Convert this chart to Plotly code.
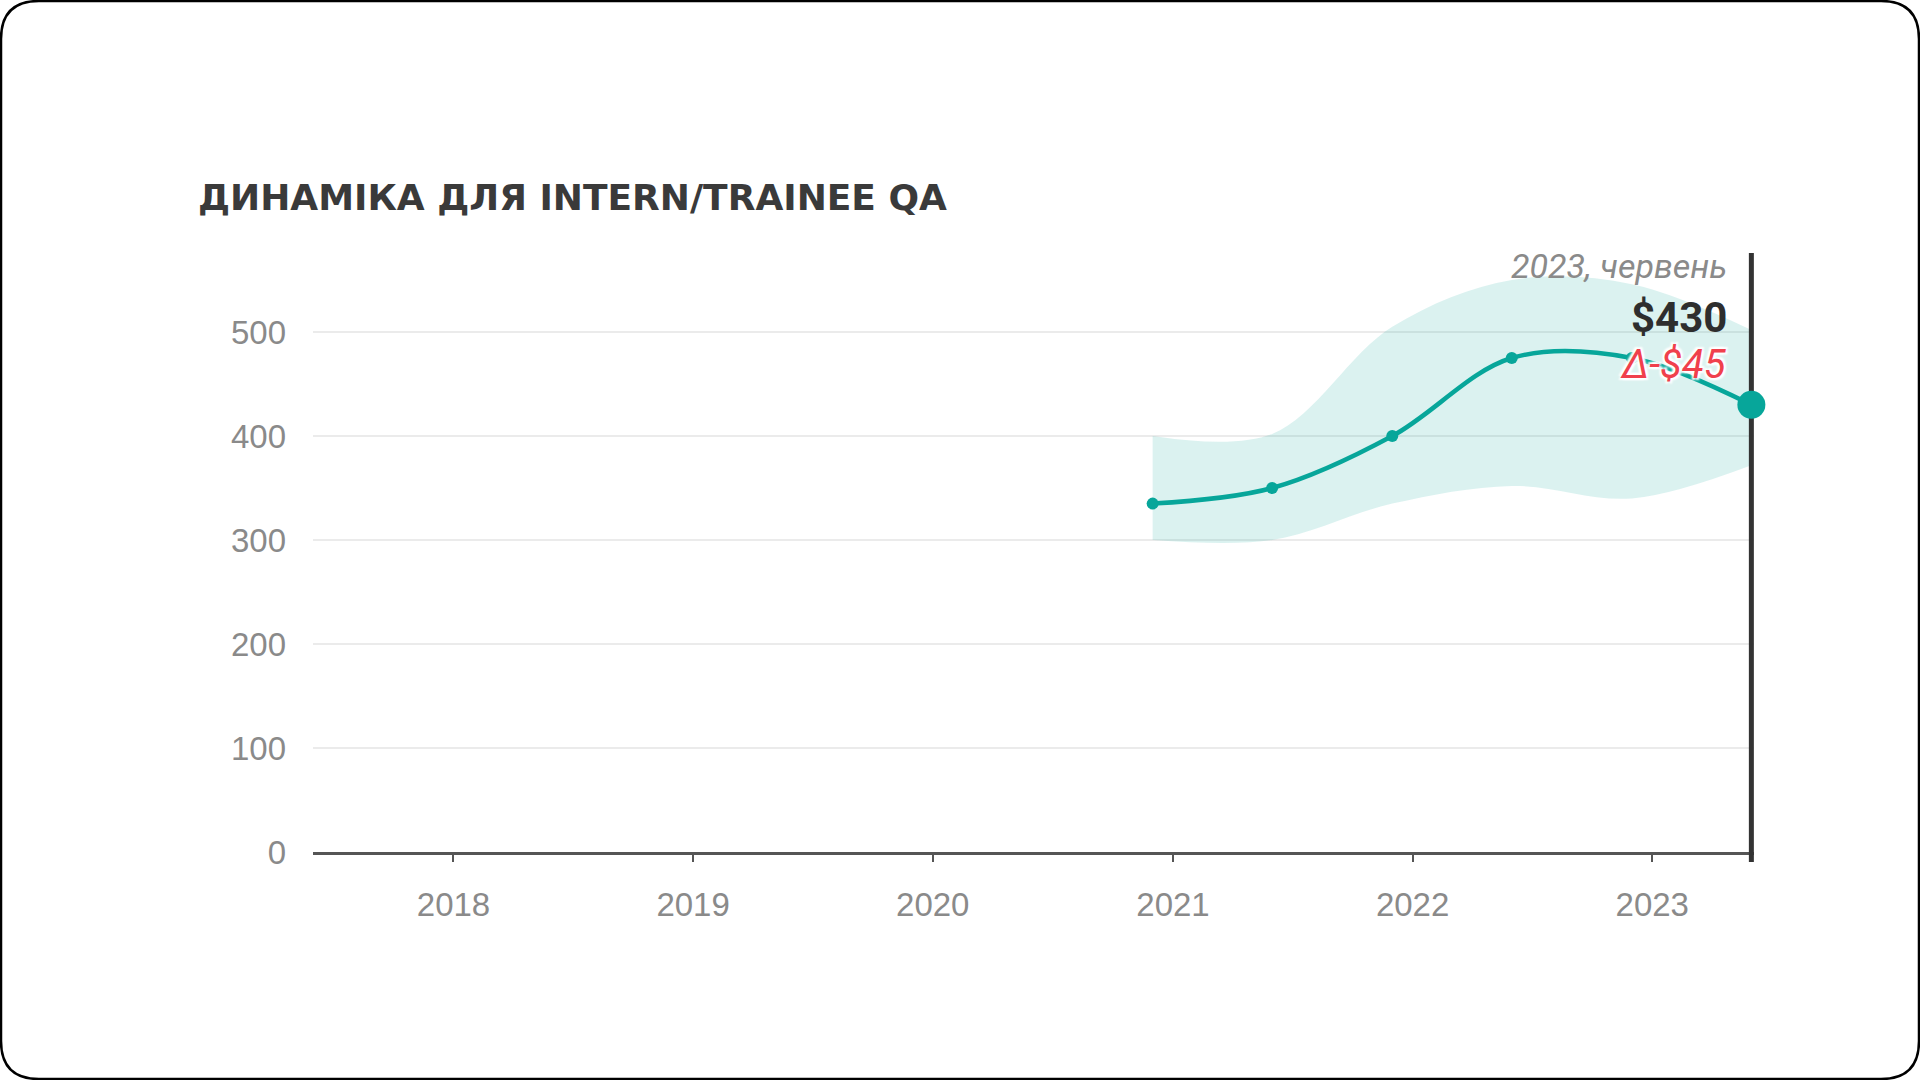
import plotly.graph_objects as go

# ---- data ----
dates = ["2020-12-01", "2021-06-01", "2021-12-01", "2022-06-01", "2022-12-01", "2023-06-01"]
median = [335, 350, 400, 475, 475, 430]
upper = [400, 402, 505, 550, 546, 502]
lower = [300, 300, 335, 352, 340, 372]
year_ticks = ["2018-01-01", "2019-01-01", "2020-01-01", "2021-01-01", "2022-01-01", "2023-01-01"]
year_labels = ["2018", "2019", "2020", "2021", "2022", "2023"]
y_ticks = [0, 100, 200, 300, 400, 500]
title_text = "ДИНАМІКА ДЛЯ INTERN/TRAINEE QA"
date_label = "2023, червень"
value_label = "$430"
delta_label = "Δ-$45"

# ---- layout geometry (pixels) ----
FW, FH = 1920, 1080
L, R, T, B = 313, 1754, 253, 852
W, H = R - L, B - T
Y_MAX = 576


def px(x):
    return (x - L) / W


def py(y):
    return (B - y) / H


TEAL = "#07a69a"
BAND = "rgba(12,166,154,0.15)"
CURSOR = "#333333"
TICKFONT = dict(family="Liberation Sans", size=33, color="#8a8a8a")

fig = go.Figure()
fig.add_trace(go.Scatter(x=dates, y=lower, mode="lines", line=dict(width=0, shape="spline", color=BAND),
                         hoverinfo="skip", showlegend=False))
fig.add_trace(go.Scatter(x=dates, y=upper, mode="lines", line=dict(width=0, shape="spline", color=BAND),
                         fill="tonexty", fillcolor=BAND, hoverinfo="skip", showlegend=False))
# cursor line at the last date (drawn above gridlines, below the series)
fig.add_trace(go.Scatter(x=[dates[-1], dates[-1]], y=[0, Y_MAX], mode="lines",
                         line=dict(width=5, color=CURSOR), hoverinfo="skip", showlegend=False))
fig.add_trace(go.Scatter(x=dates, y=median, mode="lines+markers",
                         line=dict(width=4.5, shape="spline", color=TEAL),
                         marker=dict(size=[12, 12, 12, 12, 12, 28], color=TEAL, opacity=1,
                                     line=dict(width=0)),
                         cliponaxis=False, showlegend=False))

shapes = []
# cursor tail below the axis
shapes.append(dict(type="line", xref="x", yref="paper", x0=dates[-1], x1=dates[-1],
                   y0=py(862), y1=0, line=dict(color=CURSOR, width=5), layer="above"))
# rounded border
x0, y0, x1, y1, r = 1, 1, FW - 1, FH - 1, 38
path = (f"M {px(x0 + r)},{py(y0)} L {px(x1 - r)},{py(y0)} Q {px(x1)},{py(y0)} {px(x1)},{py(y0 + r)} "
        f"L {px(x1)},{py(y1 - r)} Q {px(x1)},{py(y1)} {px(x1 - r)},{py(y1)} "
        f"L {px(x0 + r)},{py(y1)} Q {px(x0)},{py(y1)} {px(x0)},{py(y1 - r)} "
        f"L {px(x0)},{py(y0 + r)} Q {px(x0)},{py(y0)} {px(x0 + r)},{py(y0)} Z")
shapes.append(dict(type="path", xref="paper", yref="paper", path=path,
                   line=dict(color="#000000", width=2.5)))

halo = "2px 2px 2px white, -2px -2px 2px white, 2px -2px 2px white, -2px 2px 2px white"
annotations = [
    dict(text=f"<b>{title_text}</b>", xref="paper", yref="paper", x=px(196), y=py(198),
         xanchor="left", yanchor="middle", showarrow=False,
         font=dict(family="DejaVu Sans", size=36, color="#3a3a3a")),
    dict(text=f"<i>{date_label}</i>", xref="x", yref="paper", x=dates[-1], xshift=-22, y=py(266),
         xanchor="right", yanchor="middle", showarrow=False,
         font=dict(family="Roboto", size=34, color="#8a8a8a")),
    dict(text=f"<b>{value_label}</b>", xref="x", yref="paper", x=dates[-1], xshift=-22, y=py(317),
         xanchor="right", yanchor="middle", showarrow=False,
         font=dict(family="Roboto", size=42, color="#2e2e2e")),
    dict(text=f"<i>{delta_label}</i>", xref="x", yref="paper", x=dates[-1], xshift=-22, y=py(364),
         xanchor="right", yanchor="middle", showarrow=False,
         font=dict(family="Roboto", size=40, color="#f0404c", shadow=halo)),
]

fig.update_layout(
    width=FW, height=FH, autosize=False,
    margin=dict(l=L, r=FW - R, t=T, b=FH - B),
    paper_bgcolor="white", plot_bgcolor="white",
    shapes=shapes, annotations=annotations,
    font=dict(family="Liberation Sans", color="#8a8a8a"),
    xaxis=dict(type="date", range=["2017-06-01", "2023-06-05"], tickvals=year_ticks, ticktext=year_labels,
               showgrid=False, showline=True, linecolor="#555555", linewidth=2.5,
               ticks="outside", ticklen=7, tickwidth=2, tickcolor="#555555",
               ticklabelstandoff=15, tickfont=TICKFONT,
               zeroline=False, fixedrange=True),
    yaxis=dict(range=[0, Y_MAX], tickvals=y_ticks, showgrid=True, gridcolor="#ebebeb", gridwidth=2,
               zeroline=False, showline=False, ticks="", ticklabelstandoff=26,
               tickfont=TICKFONT, fixedrange=True),
    showlegend=False,
)

fig.write_html("out.html")
